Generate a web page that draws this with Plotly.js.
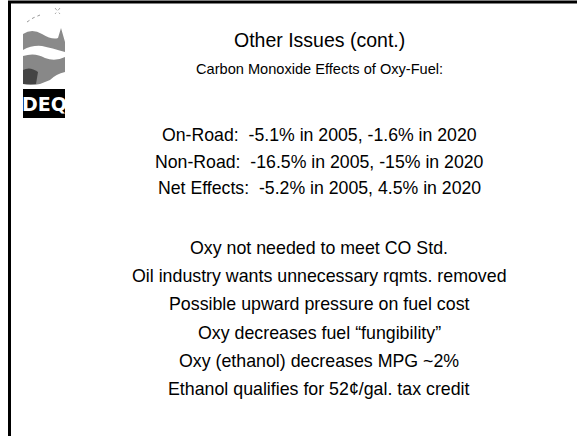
<!DOCTYPE html>
<html>
<head>
<meta charset="utf-8">
<script src="https://cdn.plot.ly/plotly-3.0.1.min.js"></script>
<style>html,body{margin:0;padding:0;background:#fff;}#chart{width:577px;height:436px;}</style>
</head>
<body>
<div id="chart"></div>
<script>
var slideTitle = "Other Issues (cont.)";
var subTitle = "Carbon Monoxide Effects of Oxy-Fuel:";
var effectLines = [
  "On-Road:  -5.1% in 2005, -1.6% in 2020",
  "Non-Road:  -16.5% in 2005, -15% in 2020",
  "Net Effects:  -5.2% in 2005, 4.5% in 2020"
];
var issueLines = [
  "Oxy not needed to meet CO Std.",
  "Oil industry wants unnecessary rqmts. removed",
  "Possible upward pressure on fuel cost",
  "Oxy decreases fuel \u201cfungibility\u201d",
  "Oxy (ethanol) decreases MPG ~2%",
  "Ethanol qualifies for 52\u00a2/gal. tax credit"
];
var logoText = "DEQ";

var font = "Liberation Sans, Arial, sans-serif";
var cx = 319;
var ann = [];
ann.push({x: cx, y: 40, text: slideTitle, font: {family: font, size: 19.5, color: "#000"}});
ann.push({x: cx, y: 69, text: subTitle, font: {family: font, size: 14.6, color: "#000"}});
effectLines.forEach(function (t, i) {
  ann.push({x: cx, y: 135 + i * 26.5, text: t, font: {family: font, size: 17.7, color: "#000"}});
});
issueLines.forEach(function (t, i) {
  ann.push({x: cx, y: 248 + i * 28.2, text: t, font: {family: font, size: 17.8, color: "#000"}});
});
ann.push({x: 44, y: 104, text: "<b>" + logoText + "</b>", font: {family: "DejaVu Sans, sans-serif", size: 19, color: "#fff"}});
ann.forEach(function (a) { a.xref = "x"; a.yref = "y"; a.showarrow = false; a.xanchor = "center"; a.yanchor = "middle"; });

var shapes = [
  {type: "line", x0: 8, x1: 577, y0: 2, y1: 2, line: {color: "#000", width: 3}},
  {type: "line", x0: 9.5, x1: 9.5, y0: 1, y1: 436, line: {color: "#000", width: 3}},
  {type: "rect", x0: 23, x1: 65, y0: 89, y1: 118, fillcolor: "#000", line: {width: 0}},
  {type: "path", path: "M 23 34 Q 32 28 42 34 Q 52 40 58 38 L 61 28 L 65 42 L 65 52 Q 52 48 42 46 Q 32 45 23 50 Z", fillcolor: "#8a8a8a", line: {width: 0}},
  {type: "path", path: "M 23 56 Q 35 52 45 58 Q 55 62 65 57 L 65 72 Q 56 74 50 80 L 40 84 Q 30 86 23 84 Z", fillcolor: "#888", line: {width: 0}},
  {type: "path", path: "M 23 70 Q 30 66 38 72 L 36 84 L 23 84 Z", fillcolor: "#444", line: {width: 0}},
  {type: "path", path: "M 27 22 L 33 18 L 40 15", line: {color: "#999", width: 1, dash: "dot"}},
  {type: "path", path: "M 55 8 L 60 14 M 60 8 L 55 14", line: {color: "#aaa", width: 1, dash: "dot"}}
];

var layout = {
  width: 577, height: 436,
  margin: {l: 0, r: 0, t: 0, b: 0},
  paper_bgcolor: "#fff", plot_bgcolor: "#fff",
  xaxis: {range: [0, 577], visible: false, fixedrange: true},
  yaxis: {range: [436, 0], visible: false, fixedrange: true},
  showlegend: false,
  annotations: ann,
  shapes: shapes
};
Plotly.newPlot("chart", [{x: [], y: [], type: "scatter"}], layout, {staticPlot: true, displayModeBar: false});
</script>
</body>
</html>
